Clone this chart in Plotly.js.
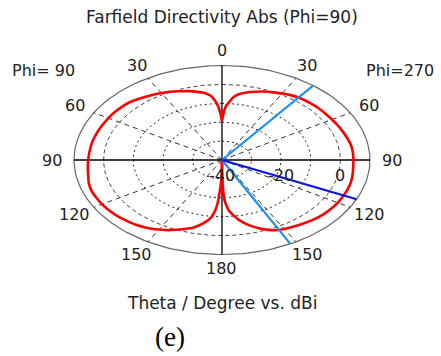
<!DOCTYPE html>
<html>
<head>
<meta charset="utf-8">
<script src="https://cdn.plot.ly/plotly-3.0.1.min.js"></script>
<style>html,body{margin:0;padding:0;background:#fff;}#chart{width:441px;height:356px;}</style>
</head>
<body>
<div id="chart"></div>
<script>
// ---- data (theta in degrees, directivity in dBi) ----
const thetaPhi90 = [0,1,2,3,4,6,8,10,13,17,21,26,30,34,40,45,50,55,60,65,70,76,80,85,90,95,100,105,110,115,120,125,130,135,140,145,150,155,160,165,170,173,175,176,177,178,179,180];
const dbiPhi90   = [-19.4,-16,-13,-10.8,-9,-6.2,-4.8,-3.9,-3.0,-1.9,-1.0,0.2,0.9,1.6,2.7,3.6,4.0,4.2,4.3,4.4,4.6,4.8,4.9,5.0,5.2,5.5,5.9,6.6,7.0,6.9,6.8,6.5,6.1,5.5,4.9,3.9,2.5,0.9,-1.0,-3.0,-6.5,-9.3,-13,-16,-21,-26,-32,-40];
const thetaPhi270 = [0,1,2,3,4,6,8,10,13,17,21,26,30,34,38,45,50,55,60,65,70,75,80,85,90,95,100,105,110,115,120,125,130,135,140,145,150,153,156,160,165,170,173,175,176,177,178,179,180];
const dbiPhi270   = [-19.4,-16,-13,-11,-10,-7.2,-5.5,-4.4,-3.3,-2.2,-1.2,-0.2,0.6,1.4,2.0,2.4,2.6,2.7,2.9,3.2,3.5,3.9,4.3,4.4,4.4,4.5,4.8,5.1,5.2,5.2,5.2,5.0,4.7,4.2,3.5,2.8,2.1,1.6,0.6,-1.3,-4.2,-8,-11,-13,-15,-17,-20,-28,-40];
const mainLobeTheta = 114.5;          // dark blue, Phi=270 side
const beamEdgeTheta = [38, 152.5];    // light blue, Phi=270 side
const radialTicks = ['-40', '-20', '0'];
const radialGrid = [-30, -20, -10, 0];
const dbMin = -40, dbMax = 10;
const angleLabels = [0, 30, 60, 90, 120, 150, 180];
const spokeAngles = [30, 60, 120, 150];

// ---- helpers ----
const rad = d => d * Math.PI / 180;
const R = db => Math.max(db - dbMin, 0);
function toXY(thetas, dbs, side) { // side: -1 left (Phi=90), +1 right (Phi=270)
  return {
    x: thetas.map((t, i) => side * R(dbs[i]) * Math.sin(rad(t))),
    y: thetas.map((t, i) => R(dbs[i]) * Math.cos(rad(t)))
  };
}
const traces = [];
function ring(db, style) {
  const a = []; for (let k = 0; k <= 360; k += 2) a.push(k);
  const r = R(db);
  traces.push({type:'scatter', mode:'lines', x:a.map(k=>r*Math.sin(rad(k))), y:a.map(k=>r*Math.cos(rad(k))),
    line:style, hoverinfo:'skip', showlegend:false});
}
radialGrid.forEach((g, i) => ring(g, {color: i === 3 ? '#444' : '#222', width: 1, dash: i === 3 ? '4px,3px' : '2px,3px'}));
ring(dbMax, {color:'#666', width:1.2});
const rOut = R(dbMax);
spokeAngles.forEach(t => [-1, 1].forEach(s => {
  traces.push({type:'scatter', mode:'lines', x:[0, s*rOut*Math.sin(rad(t))], y:[0, rOut*Math.cos(rad(t))],
    line:{color:'#333', width:1, dash:'5px,4px'}, hoverinfo:'skip', showlegend:false});
}));
traces.push({type:'scatter', mode:'lines', x:[0,0], y:[-rOut,rOut], line:{color:'#000',width:1.3}, hoverinfo:'skip', showlegend:false});
traces.push({type:'scatter', mode:'lines', x:[-rOut,rOut], y:[0,0], line:{color:'#000',width:1.3}, hoverinfo:'skip', showlegend:false});

function beam(t, color) {
  traces.push({type:'scatter', mode:'lines', x:[0, rOut*Math.sin(rad(t))], y:[0, rOut*Math.cos(rad(t))],
    line:{color:color, width:2.2}, hoverinfo:'skip', showlegend:false});
}
const p90 = toXY(thetaPhi90, dbiPhi90, -1);
const p270 = toXY(thetaPhi270, dbiPhi270, 1);
traces.push({type:'scatter', mode:'lines', x:p90.x, y:p90.y, line:{color:'#ff0000', width:2.6, shape:'spline', smoothing:0.6}, hoverinfo:'skip', showlegend:false});
traces.push({type:'scatter', mode:'lines', x:p270.x, y:p270.y, line:{color:'#ff0000', width:2.6, shape:'spline', smoothing:0.6}, hoverinfo:'skip', showlegend:false});
beamEdgeTheta.forEach(t => beam(t, '#1e8ff0'));
beam(mainLobeTheta, '#0a14e0');

// ---- text ----
const txtFont = {family:'DejaVu Sans, Verdana, sans-serif', size:16, color:'#222'};
const titleFont = {family:'DejaVu Sans, Verdana, sans-serif', size:17, color:'#222'};
const ann = [];
const rLab = 57.5;
angleLabels.forEach(t => {
  const sides = (t === 0 || t === 180) ? [1] : [-1, 1];
  sides.forEach(s => ann.push({x: s*rLab*Math.sin(rad(t)), y: rLab*Math.cos(rad(t)) + (t===0?0.5:0), text:String(t),
    showarrow:false, font:txtFont, xanchor:'center', yanchor:'middle'}));
});
radialTicks.forEach(v => ann.push({x: R(Number(v)), y: -8, text: v,
  showarrow:false, font:txtFont, xanchor:'center', yanchor:'middle'}));
ann.push({xref:'paper', yref:'paper', x:43/441, y:1-70/356, text:'Phi= 90', showarrow:false, font:txtFont, xanchor:'center', yanchor:'middle'});
ann.push({xref:'paper', yref:'paper', x:400/441, y:1-70/356, text:'Phi=270', showarrow:false, font:txtFont, xanchor:'center', yanchor:'middle'});
ann.push({xref:'paper', yref:'paper', x:222/441, y:1-17/356, text:'Farfield Directivity Abs (Phi=90)', showarrow:false, font:titleFont, xanchor:'center', yanchor:'middle'});
ann.push({xref:'paper', yref:'paper', x:222/441, y:1-303/356, text:'Theta / Degree vs. dBi', showarrow:false, font:titleFont, xanchor:'center', yanchor:'middle'});
ann.push({xref:'paper', yref:'paper', x:170/441, y:1-337/356, text:'(e)', showarrow:false, font:{family:'Liberation Serif, Times New Roman, serif', size:27, color:'#000'}, xanchor:'center', yanchor:'middle'});

const layout = {
  width:441, height:356, margin:{l:0,r:0,t:0,b:0},
  paper_bgcolor:'#fff', plot_bgcolor:'#fff',
  xaxis:{range:[-75, 74], visible:false, fixedrange:true},
  yaxis:{range:[-103.7, 84.66], visible:false, fixedrange:true},
  annotations: ann, showlegend:false
};
Plotly.newPlot('chart', traces, layout, {staticPlot:true, displayModeBar:false});
</script>
</body>
</html>
